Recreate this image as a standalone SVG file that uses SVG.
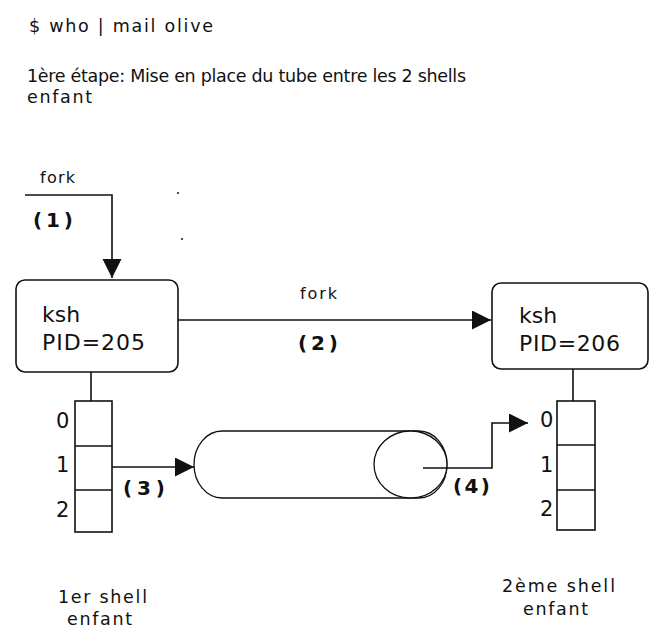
<svg xmlns="http://www.w3.org/2000/svg" width="652" height="631" viewBox="0 0 652 631">
<style>
text{font-family:"DejaVu Sans","Verdana",sans-serif;fill:#111}
.t{font-size:17.5px}
.s{font-size:16px}
.b{font-size:20px;font-weight:bold}
.k{font-size:22px}
.d{font-size:21px}
.ln{fill:none;stroke:#111;stroke-width:1.6}
.box{fill:#fff;stroke:#111;stroke-width:1.6}
.pipe{fill:#fff;stroke:#111;stroke-width:1.3}
</style>
<defs>
<marker id="ah" markerUnits="userSpaceOnUse" markerWidth="20" markerHeight="20" refX="19" refY="9.5" orient="auto">
<path d="M0,0 L19,9.5 L0,19 z" fill="#111"/>
</marker>
</defs>
<rect width="652" height="631" fill="#fff"/>
<g id="titles">
<text class="t" x="29" y="32" textLength="184" lengthAdjust="spacing">$ who | mail olive</text>
<text class="t" x="27" y="82" textLength="439" lengthAdjust="spacing">1ère étape: Mise en place du tube entre les 2 shells</text>
<text class="t" x="27" y="103" textLength="65" lengthAdjust="spacing">enfant</text>
</g>
<g id="pipe">
<rect class="pipe" x="194" y="431" width="253" height="67" rx="28" ry="33.5"/>
<ellipse class="pipe" cx="410.5" cy="464.5" rx="36.5" ry="33.5"/>
</g>
<g id="connectors">
<path class="ln" d="M25,195 H112 V278" marker-end="url(#ah)"/>
<path class="ln" d="M178,320 H491" marker-end="url(#ah)"/>
<path class="ln" d="M105,467 H194" marker-end="url(#ah)"/>
<path class="ln" d="M423,468 H492 V423 H528" marker-end="url(#ah)"/>
<line class="ln" x1="91" y1="372" x2="91" y2="401"/>
<line class="ln" x1="573" y1="369" x2="573" y2="401"/>
<circle cx="178" cy="193" r="1" fill="#111"/>
<circle cx="182" cy="239" r="1" fill="#111"/>
</g>
<g id="labels">
<text class="s" x="40" y="183" textLength="35" lengthAdjust="spacing">fork</text>
<text class="b" x="33" y="227" textLength="40" lengthAdjust="spacing">(1)</text>
<text class="s" x="300" y="299" textLength="37" lengthAdjust="spacing">fork</text>
<text class="b" x="298" y="350" textLength="40" lengthAdjust="spacing">(2)</text>
<text class="b" x="123" y="495" textLength="42" lengthAdjust="spacing">(3)</text>
<text class="b" x="453" y="493" textLength="37" lengthAdjust="spacing">(4)</text>
</g>
<g id="ksh1">
<rect class="box" x="16" y="280" width="162" height="92" rx="9"/>
<text class="k" x="42" y="322">ksh</text>
<text class="k" x="42" y="350" textLength="103" lengthAdjust="spacing">PID=205</text>
</g>
<g id="ksh2">
<rect class="box" x="492" y="283" width="156" height="86" rx="9"/>
<text class="k" x="519" y="323">ksh</text>
<text class="k" x="519" y="351" textLength="101" lengthAdjust="spacing">PID=206</text>
</g>
<g id="fd1">
<rect class="box" x="75" y="401" width="37" height="131"/>
<line class="ln" x1="75" y1="446" x2="112" y2="446"/>
<line class="ln" x1="75" y1="490" x2="112" y2="490"/>
<text class="d" x="56" y="428">0</text>
<text class="d" x="56" y="472">1</text>
<text class="d" x="56" y="517">2</text>
</g>
<g id="fd2">
<rect class="box" x="557" y="401" width="38" height="129"/>
<line class="ln" x1="557" y1="445" x2="595" y2="445"/>
<line class="ln" x1="557" y1="490" x2="595" y2="490"/>
<text class="d" x="540" y="427">0</text>
<text class="d" x="540" y="472">1</text>
<text class="d" x="540" y="516">2</text>
</g>
<g id="captions">
<text class="t" x="58" y="603" textLength="89" lengthAdjust="spacing">1er shell</text>
<text class="t" x="67" y="625" textLength="65" lengthAdjust="spacing">enfant</text>
<text class="t" x="502" y="592" textLength="113" lengthAdjust="spacing">2ème shell</text>
<text class="t" x="523" y="615" textLength="65" lengthAdjust="spacing">enfant</text>
</g>
</svg>
